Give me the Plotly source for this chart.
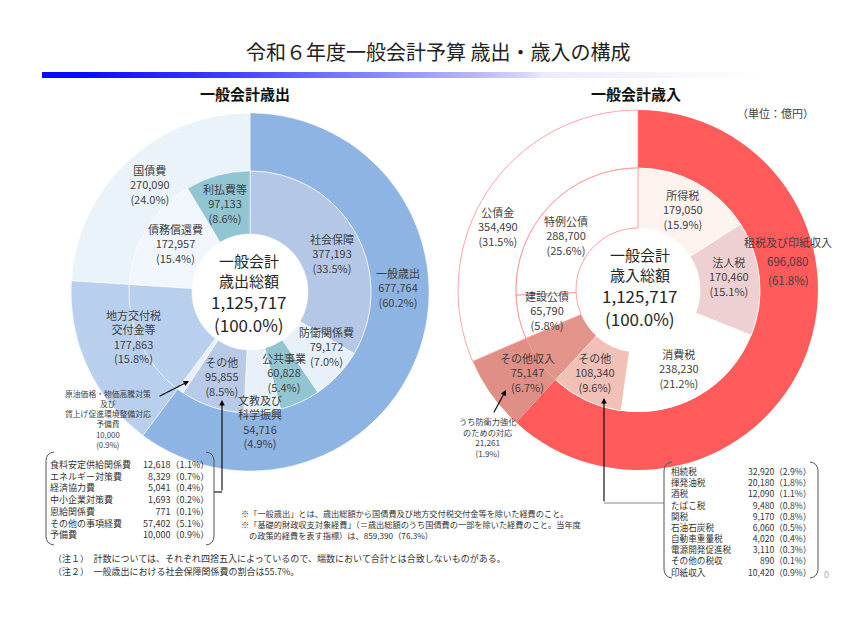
import plotly.graph_objects as go
import numpy as np

W, H = 856, 642
TOTAL = 1125717

# ---------------- data: 歳出 (expenditure) ----------------
exp_outer_labels = ["一般歳出", "地方交付税交付金等", "国債費"]
exp_outer_values = [677764, 177863, 270090]
exp_outer_pcts = ["60.2", "15.8", "24.0"]
exp_outer_colors = ["#8db4e2", "#b8d0ee", "#eaf3fa"]

exp_inner_labels = ["社会保障", "防衛関係費", "公共事業", "文教及び科学振興", "その他",
                    "予備費", "地方交付税交付金等", "債務償還費", "利払費等"]
exp_inner_values = [377193, 79172, 60828, 54716, 95855, 10000, 177863, 172957, 97133]
exp_inner_pcts = ["33.5", "7.0", "5.4", "4.9", "8.5", "0.9", "15.8", "15.4", "8.6"]
exp_inner_colors = ["#b4c7e7", "#e8f1fa", "#92c5d2", "#e8f1fa", "#b8cae8",
                    "#e8f1fa", "#b8d0ee", "#f0f6fc", "#92c5d2"]

exp_other_labels = ["食料安定供給関係費", "エネルギー対策費", "経済協力費", "中小企業対策費",
                    "恩給関係費", "その他の事項経費", "予備費"]
exp_other_values = [12618, 8329, 5041, 1693, 771, 57402, 10000]
exp_other_pcts = ["1.1", "0.7", "0.4", "0.2", "0.1", "5.1", "0.9"]

# ---------------- data: 歳入 (revenue) ----------------
rev_outer_labels = ["租税及び印紙収入", "その他収入", "公債金"]
rev_outer_values = [696080, 75147, 354490]
rev_outer_pcts = ["61.8", "6.7", "31.5"]
rev_outer_colors = ["#ff5b5b", "#df8f86", "#ffffff"]

rev_inner_labels = ["所得税", "法人税", "消費税", "その他", "その他収入", "建設公債", "特例公債"]
rev_inner_values = [179050, 170460, 238230, 108340, 75147, 65790, 288700]
rev_inner_pcts = ["15.9", "15.1", "21.2", "9.6", "6.7", "5.8", "25.6"]
rev_inner_colors = ["#fdf3ee", "#eed0d2", "#ffffff", "#f1c0b6", "#e2948a", "#ffffff", "#ffffff"]

rev_other_labels = ["相続税", "揮発油税", "酒税", "たばこ税", "関税", "石油石炭税",
                    "自動車重量税", "電源開発促進税", "その他の税収", "印紙収入"]
rev_other_values = [32920, 20180, 12090, 9480, 9170, 6060, 4020, 3110, 890, 10420]
rev_other_pcts = ["2.9", "1.8", "1.1", "0.8", "0.8", "0.5", "0.4", "0.3", "0.1", "0.9"]

defense_value, defense_pct = 21261, "1.9"
reserve_value, reserve_pct = 10000, "0.9"
primary_value, primary_pct = 859390, "76.3"
social_share = "55.7"

FONT = "Noto Sans CJK JP"
TXT = "#404040"

fig = go.Figure()

# ---------- gradient bar under the title ----------
fig.add_trace(go.Heatmap(
    z=[[0, 1, 2, 3, 4, 5, 6, 7, 8]],
    x=[42, 127, 213, 298, 383, 469, 554, 639, 725, 810],
    y=[72, 78],
    colorscale=[[0, "#0a0aff"], [0.2, "#3c3cff"], [0.4, "#8080ff"], [0.55, "#b0b0f8"],
                [0.65, "#d8d8fa"], [0.67, "#ebebfc"], [0.85, "#f6f6fe"], [1, "#ffffff"]],
    zsmooth="best", showscale=False, hoverinfo="skip", xaxis="x", yaxis="y"))


def ring(values, base, outer, colors, lcolors, lwidths, subplot):
    v = np.array(values, dtype=float)
    tot = v.sum()
    start = np.concatenate([[0], np.cumsum(v)[:-1]])
    theta = (start + v / 2) / tot * 360
    width = v / tot * 360
    return go.Barpolar(r=[outer - base] * len(v), base=[base] * len(v), theta=theta,
                       width=width, marker=dict(color=colors, line=dict(color=lcolors, width=lwidths)),
                       subplot=subplot, hoverinfo="skip", showlegend=False)


# left chart geometry
LCX, LCY, LR, LRI, LH = 250, 292, 179, 121, 58
# right chart geometry
RCX, RCY, RR, RRI, RH = 638, 290, 180, 122, 62
PR = 181  # polar radius in px (radial units = px)

fig.add_trace(ring(exp_outer_values, LRI, LR, exp_outer_colors,
                   ["#ffffff"] * 3, [0.5] * 3, "polar"))
fig.add_trace(ring(exp_inner_values, LH, LRI, exp_inner_colors,
                   ["#ffffff"] * 9, [0.6] * 9, "polar"))

dash = "#ff8a8a"
fig.add_trace(ring(rev_outer_values, RRI, RR, rev_outer_colors,
                   ["rgba(0,0,0,0)", "rgba(0,0,0,0)", dash], [0, 0, 0.8], "polar2"))
fig.add_trace(ring(rev_inner_values, RH, RRI, rev_inner_colors,
                   ["#ffffff", "#ffffff", "rgba(0,0,0,0)", "#ffffff", "rgba(0,0,0,0)", dash, dash],
                   [0.8, 0.8, 0, 0.8, 0, 0.8, 0.8], "polar2"))


def polar_layout(cx, cy):
    return dict(
        domain=dict(x=[(cx - PR) / W, (cx + PR) / W], y=[1 - (cy + PR) / H, 1 - (cy - PR) / H]),
        radialaxis=dict(range=[0, PR], visible=False, showgrid=False, showline=False, showticklabels=False),
        angularaxis=dict(rotation=90, direction="clockwise", visible=False, showgrid=False,
                         showline=False, showticklabels=False, ticks=""),
        bgcolor="rgba(0,0,0,0)", hole=0)


annotations = []


def txt(x, y, s, size=11, color=TXT, xanchor="center", bold=False, align="center"):
    if isinstance(s, (list, tuple)):
        s = "<br>".join(s)
    if bold:
        s = "<b>" + s + "</b>"
    annotations.append(dict(x=x, y=y, xref="x", yref="y", text=s, showarrow=False,
                            xanchor=xanchor, yanchor="middle", align=align, borderpad=0,
                            font=dict(family=FONT, size=size, color=color)))


def fmt(v):
    return f"{v:,}"


def lab(name, v, p):
    return name + [fmt(v), f"({p}%)"]


def center(x, y0, word):
    txt(x, y0, "一般会計", 15, "#262626")
    txt(x, y0 + 20, word, 15, "#262626")
    txt(x, y0 + 41.5, fmt(TOTAL), 17, "#262626")
    txt(x, y0 + 64.5, "(100.0%)", 17, "#262626")


# title
txt(438, 51, "令和６年度一般会計予算 歳出・歳入の構成", 20, "#222222")
txt(245, 93, "一般会計歳出", 15, "#111111", bold=True)
txt(636, 93, "一般会計歳入", 15, "#111111", bold=True)
txt(775, 113, "（単位：億円）", 11, TXT)

# ---- left labels ----
txt(150, 184, lab(["国債費"], exp_outer_values[2], exp_outer_pcts[2]))
txt(225, 203, lab(["利払費等"], exp_inner_values[8], exp_inner_pcts[8]))
txt(175, 243, lab(["債務償還費"], exp_inner_values[7], exp_inner_pcts[7]))
txt(332, 253, lab(["社会保障"], exp_inner_values[0], exp_inner_pcts[0]))
txt(398, 287, lab(["一般歳出"], exp_outer_values[0], exp_outer_pcts[0]))
txt(133, 336, lab(["地方交付税", "交付金等"], exp_outer_values[1], exp_outer_pcts[1]))
txt(326, 346, lab(["防衛関係費"], exp_inner_values[1], exp_inner_pcts[1]))
txt(284, 372, lab(["公共事業"], exp_inner_values[2], exp_inner_pcts[2]))
txt(222, 376, lab(["その他"], exp_inner_values[4], exp_inner_pcts[4]))
txt(260, 421, lab(["文教及び", "科学振興"], exp_inner_values[3], exp_inner_pcts[3]))
txt(108, 419, lab(["原油価格・物価高騰対策", "及び", "賃上げ促進環境整備対応", "予備費"],
                  reserve_value, reserve_pct), 7.8)
center(249, 260, "歳出総額")

# ---- right labels ----
txt(498, 226, lab(["公債金"], rev_outer_values[2], rev_outer_pcts[2]))
txt(566, 235, lab(["特例公債"], rev_inner_values[6], rev_inner_pcts[6]))
txt(683, 209, lab(["所得税"], rev_inner_values[0], rev_inner_pcts[0]))
txt(788, 242, rev_outer_labels[0], 11)
txt(788, 261, fmt(rev_outer_values[0]), 11.5)
txt(788, 280, f"({rev_outer_pcts[0]}%)", 11.5)
txt(729, 276, lab(["法人税"], rev_inner_values[1], rev_inner_pcts[1]))
txt(547, 310, lab(["建設公債"], rev_inner_values[5], rev_inner_pcts[5]))
txt(527, 372, lab(["その他収入"], rev_outer_values[1], rev_outer_pcts[1]))
txt(595, 372, lab(["その他"], rev_inner_values[3], rev_inner_pcts[3]))
txt(679, 368, lab(["消費税"], rev_inner_values[2], rev_inner_pcts[2]))
txt(487, 437, lab(["うち防衛力強化", "のための対応"], defense_value, defense_pct), 8.2)
center(640, 254, "歳入総額")

# ---- lists ----
txt(49, 499, exp_other_labels, 9, "#333333", "left", align="left")
txt(210, 499, [f"{fmt(v)}（{p}%）" for v, p in zip(exp_other_values, exp_other_pcts)],
    9, "#333333", "right", align="right")

txt(670, 521, rev_other_labels, 8.6, "#333333", "left", align="left")
txt(812, 521, [f"{fmt(v)}（{p}%）" for v, p in zip(rev_other_values, rev_other_pcts)],
    8.6, "#333333", "right", align="right")

txt(826, 574, "0", 9, "#aaaaaa")

# ---- notes ----
txt(240, 513, "※「一般歳出」とは、歳出総額から国債費及び地方交付税交付金等を除いた経費のこと。", 8.2, "#333333", "left")
txt(240, 524, "※「基礎的財政収支対象経費」（＝歳出総額のうち国債費の一部を除いた経費のこと。当年度", 8.2, "#333333", "left")
txt(248, 535, f"の政策的経費を表す指標）は、{fmt(primary_value)}（{primary_pct}%）", 8.2, "#333333", "left")
txt(52, 558, "（注１）　計数については、それぞれ四捨五入によっているので、端数において合計とは合致しないものがある。", 9, "#333333", "left")
txt(52, 571, f"（注２）　一般歳出における社会保障関係費の割合は{social_share}%。", 9, "#333333", "left")


# ---- arrows ----
def arrow(x, y, ax, ay):
    annotations.append(dict(x=x, y=y, ax=ax, ay=ay, xref="x", yref="y", axref="x", ayref="y",
                            text="", showarrow=True, arrowhead=2, arrowsize=1, arrowwidth=1.1,
                            arrowcolor="#000000"))


arrow(189, 381, 158, 397)
arrow(222, 400, 222, 492)
arrow(506, 390, 493, 414)
arrow(604, 398, 604, 503)

shapes = [
    dict(type="line", x0=214, y0=492, x1=222, y1=492, xref="x", yref="y", line=dict(color="#000000", width=1.1)),
    dict(type="line", x0=604, y0=503, x1=664, y1=503, xref="x", yref="y", line=dict(color="#888888", width=1)),
    # brackets
    dict(type="path", path="M 54 452 Q 46 453 46 461 L 46 536 Q 46 544 54 545",
         xref="x", yref="y", line=dict(color="#555555", width=1)),
    dict(type="path", path="M 206 452 Q 214 453 214 461 L 214 536 Q 214 544 206 545",
         xref="x", yref="y", line=dict(color="#555555", width=1)),
    dict(type="path", path="M 672 462 Q 664 463 664 471 L 664 569 Q 664 577 672 578",
         xref="x", yref="y", line=dict(color="#555555", width=1)),
    dict(type="path", path="M 810 462 Q 818 463 818 471 L 818 569 Q 818 577 810 578",
         xref="x", yref="y", line=dict(color="#555555", width=1)),
]

fig.update_layout(
    width=W, height=H, margin=dict(l=0, r=0, t=0, b=0),
    paper_bgcolor="#ffffff", plot_bgcolor="rgba(0,0,0,0)",
    xaxis=dict(range=[0, W], domain=[0, 1], visible=False, fixedrange=True),
    yaxis=dict(range=[H, 0], domain=[0, 1], visible=False, fixedrange=True),
    polar=polar_layout(LCX, LCY),
    polar2=polar_layout(RCX, RCY),
    annotations=annotations, shapes=shapes, showlegend=False,
    font=dict(family=FONT),
)

fig.write_html("out.html", config={"displayModeBar": False},
               post_script="document.body.style.margin='0';")
